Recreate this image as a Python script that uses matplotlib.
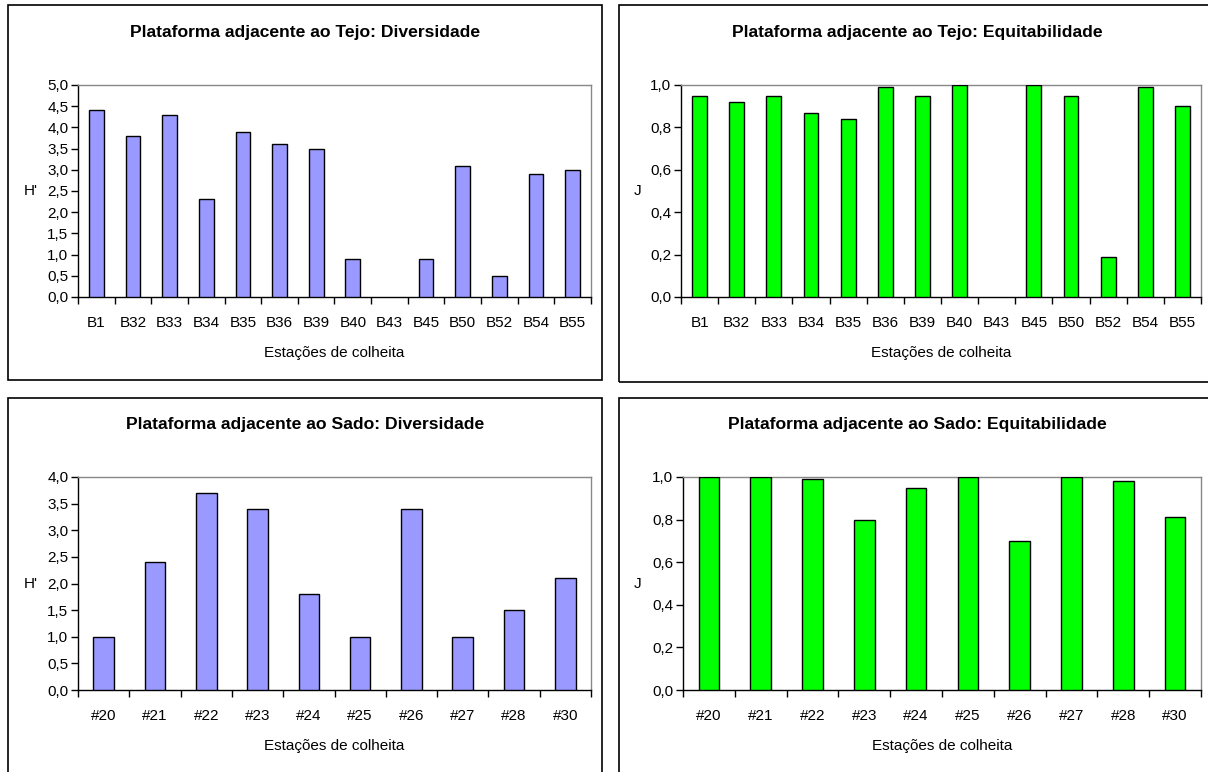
import numpy as np
import matplotlib.pyplot as plt
from matplotlib.patches import Rectangle

plt.rcParams['font.family'] = ['Liberation Sans', 'DejaVu Sans']

tejo_stations = ["B1", "B32", "B33", "B34", "B35", "B36", "B39", "B40",
                 "B43", "B45", "B50", "B52", "B54", "B55"]
tejo_diversity = [4.4, 3.8, 4.3, 2.3, 3.9, 3.6, 3.5, 0.9, 0.0, 0.9, 3.1, 0.5, 2.9, 3.0]
tejo_evenness = [0.95, 0.92, 0.95, 0.87, 0.84, 0.99, 0.95, 1.0, 0.0, 1.0, 0.95, 0.19, 0.99, 0.90]

sado_stations = ["#20", "#21", "#22", "#23", "#24", "#25", "#26", "#27", "#28", "#30"]
sado_diversity = [1.0, 2.4, 3.7, 3.4, 1.8, 1.0, 3.4, 1.0, 1.5, 2.1]
sado_evenness = [1.0, 1.0, 0.99, 0.80, 0.95, 1.0, 0.70, 1.0, 0.98, 0.81]

W, H = 1208, 772
fig = plt.figure(figsize=(W / 100, H / 100), dpi=100)


def px_rect(x0, y0, x1, y1):
    # pixel box (top-left origin) -> figure fraction [l, b, w, h]
    return [x0 / W, 1 - y1 / H, (x1 - x0) / W, (y1 - y0) / H]


def panel(frame, axbox, title, stations, values, ymax, ystep, ylabel, color, ylab_x):
    fx0, fy0, fx1, fy1 = frame
    fig.add_artist(Rectangle((fx0 / W, 1 - fy1 / H), (fx1 - fx0) / W, (fy1 - fy0) / H,
                             transform=fig.transFigure, fill=False, ec='black', lw=1.2))
    fig.text((fx0 + fx1) / 2 / W, 1 - (fy0 + 27) / H, title, ha='center', va='center',
             fontsize=12.6, fontweight='bold')

    ax = fig.add_axes(px_rect(*axbox))
    x = np.arange(len(stations))
    # zero-height bars are left out, as in the spreadsheet original
    hv = np.array(values, dtype=float)
    keep = hv > 0
    ax.bar(x[keep], hv[keep], width=0.4, color=color, edgecolor='black',
           linewidth=1.0, zorder=3)
    ax.set_xlim(-0.5, len(stations) - 0.5)
    ax.set_ylim(0, ymax)
    yt = np.arange(0, ymax + ystep / 2, ystep)
    ax.set_yticks(yt)
    ax.set_yticklabels([f"{v:.1f}".replace('.', ',') for v in yt], fontsize=11)
    ax.set_xticks(np.arange(len(stations) + 1) - 0.5)
    ax.set_xticklabels([])
    ax.set_xticks(x, minor=True)
    ax.set_xticklabels(stations, minor=True, fontsize=11)
    ax.tick_params(axis='x', which='minor', length=0, pad=14)
    ax.tick_params(axis='x', which='major', length=5, direction='out', width=1)
    ax.tick_params(axis='y', length=5, direction='out', width=1, pad=2)
    for side in ('top', 'right'):
        ax.spines[side].set_color('#888888')
        ax.spines[side].set_linewidth(1.0)
    for side in ('left', 'bottom'):
        ax.spines[side].set_color('black')
        ax.spines[side].set_linewidth(1.0)
    ax.set_xlabel("Estações de colheita", fontsize=11, labelpad=11)
    fig.text(ylab_x / W, 1 - ((axbox[1] + axbox[3]) / 2) / H, ylabel, ha='center',
             va='center', fontsize=11)
    return ax


panel((8, 5, 602, 380), (78, 85, 591, 297),
      "Plataforma adjacente ao Tejo: Diversidade",
      tejo_stations, tejo_diversity, 5.0, 0.5, "H'", '#9999ff', 31)
panel((619, 5, 1215, 382), (681, 85, 1201, 297),
      "Plataforma adjacente ao Tejo: Equitabilidade",
      tejo_stations, tejo_evenness, 1.0, 0.2, "J", '#00ff00', 638)
panel((8, 398, 602, 780), (78, 477, 591, 690),
      "Plataforma adjacente ao Sado: Diversidade",
      sado_stations, sado_diversity, 4.0, 0.5, "H'", '#9999ff', 31)
panel((619, 398, 1215, 780), (683, 477, 1201, 690),
      "Plataforma adjacente ao Sado: Equitabilidade",
      sado_stations, sado_evenness, 1.0, 0.2, "J", '#00ff00', 638)

fig.savefig("out.png", dpi=100)
